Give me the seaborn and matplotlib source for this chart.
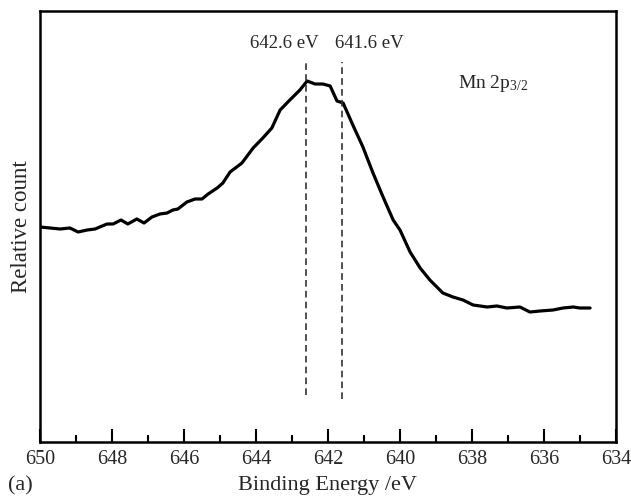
import numpy as np
import pandas as pd
import matplotlib
matplotlib.use("Agg")
import matplotlib.pyplot as plt
import seaborn as sns
from matplotlib.ticker import MultipleLocator

# Data (binding energy in eV, relative count in arbitrary units)
energy = [650.00, 649.72, 649.44, 649.17, 648.94, 648.69, 648.47, 648.14, 647.97, 647.75,
          647.56, 647.31, 647.11, 646.89, 646.67, 646.47, 646.31, 646.17, 645.92, 645.69,
          645.50, 645.33, 645.08, 644.92, 644.72, 644.39, 644.08, 643.81, 643.56, 643.33,
          643.06, 642.78, 642.58, 642.36, 642.14, 641.94, 641.75, 641.58, 641.31, 641.03,
          640.75, 640.47, 640.19, 640.00, 639.72, 639.44, 639.17, 638.81, 638.53, 638.25,
          637.97, 637.58, 637.31, 637.03, 636.67, 636.39, 636.11, 635.75, 635.47, 635.19,
          635.00, 634.72]
count = [215, 214, 213, 214, 210, 212, 213, 218, 218, 222,
         218, 223, 219, 225, 228, 229, 232, 233, 240, 243,
         243, 248, 254, 259, 270, 279, 294, 304, 314, 332,
         342, 352, 361, 358, 358, 356, 341, 339, 317, 295,
         269, 245, 222, 212, 190, 174, 162, 149, 145, 142,
         137, 135, 136, 134, 135, 130, 131, 132, 134, 135,
         134, 134]

peak_positions = [642.6, 641.6]
peak_labels = ["642.6 eV", "641.6 eV"]
peak_line_bottoms = [47, 43]
peak_line_top = 380
label_positions = [643.22, 640.86]

xticks = [650, 648, 646, 644, 642, 640, 638, 636, 634]

sns.set_theme(style="white")
plt.rcParams['font.family'] = ['Liberation Serif', 'DejaVu Serif']
plt.rcParams['mathtext.fontset'] = 'stix'

df = pd.DataFrame({"Binding Energy /eV": energy, "Relative count": count})

fig = plt.figure(figsize=(6.31, 4.98), dpi=100)
ax = fig.add_axes([40/631, 1-442/498, 576/631, 431/498])

sns.lineplot(data=df, x="Binding Energy /eV", y="Relative count", ax=ax,
             color="black", linewidth=2.3, sort=False)

for pos, bot in zip(peak_positions, peak_line_bottoms):
    ax.plot([pos, pos], [bot, peak_line_top], color="#333333", linewidth=1.2,
            linestyle=(0, (4, 2.5)))

for lab, lx in zip(peak_labels, label_positions):
    ax.text(lx, 399, lab, ha="center", va="center", fontsize=13.5)

ax.text(638.39, 359, "Mn 2p$_{\\mathregular{3/2}}$", ha="left", va="center", fontsize=14)

ax.set_xlim(650, 634)
ax.set_ylim(0, 431)
ax.set_xticks(xticks)
ax.set_xticklabels([str(t) for t in xticks])
ax.xaxis.set_minor_locator(MultipleLocator(1))
ax.set_yticks([])

ax.tick_params(axis="x", which="major", direction="in", length=9.5, width=1.5,
               labelsize=14.5, pad=6, bottom=True, top=False, color="black")
ax.tick_params(axis="x", which="minor", direction="in", length=5, width=1.5,
               bottom=True, top=False, color="black")

for s in ax.spines.values():
    s.set_visible(True)
    s.set_linewidth(1.8)
    s.set_color("black")

ax.set_xlabel("Binding Energy /eV", fontsize=16, labelpad=5)
ax.set_ylabel("Relative count", fontsize=16.5, labelpad=6)

fig.text(20/631, 1-486/498, "(a)", ha="center", va="center", fontsize=16)

fig.savefig("out.png", dpi=100)
